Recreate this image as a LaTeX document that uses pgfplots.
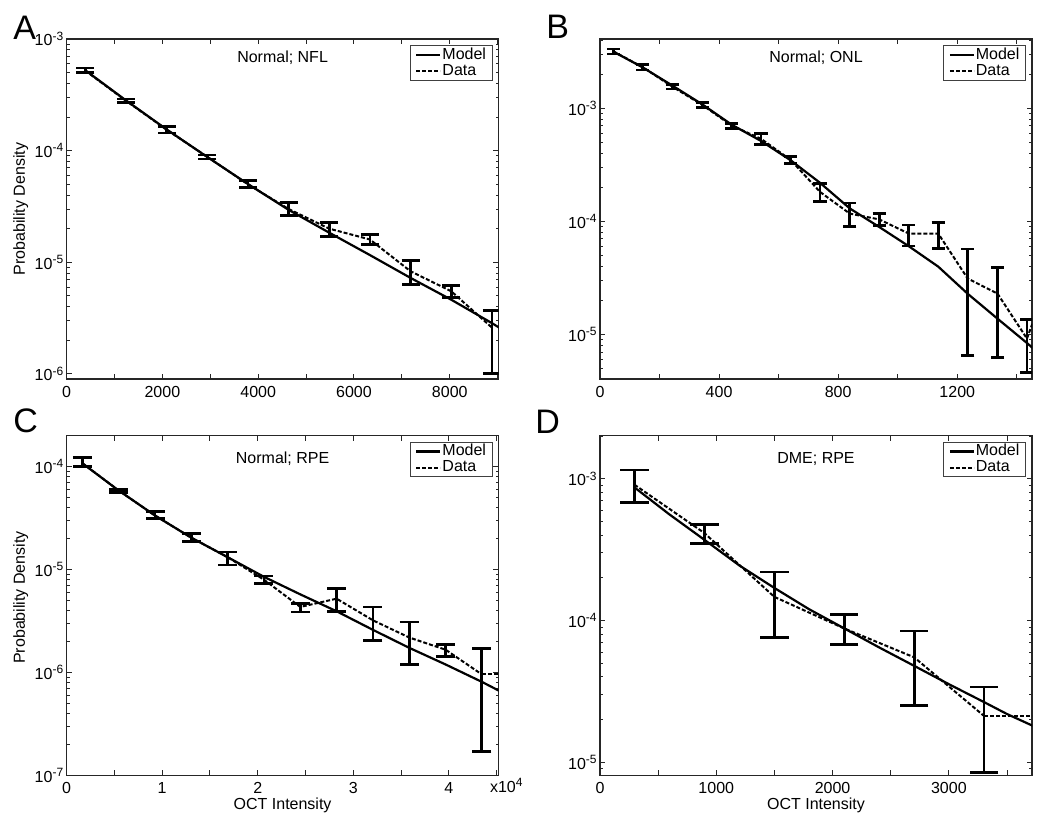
\documentclass[border=0pt]{standalone}
\usepackage{fontspec}
\setmainfont{Liberation Sans}
\usepackage{pgfplots}
\usepackage{pgfplotstable}
\pgfplotsset{compat=1.18}

\pgfplotstableread{
x y
390 5.25e-4
1239 2.82e-4
2088 1.55e-4
2937 8.77e-5
3786 5.02e-5
4635 2.95e-5
5484 1.84e-5
6333 1.16e-5
7182 7.24e-6
8031 4.62e-6
8880 2.85e-6
9050 2.57e-6
}\modelA
\pgfplotstableread{
x y ep em
390 5.2e-4 3.0e-5 1.8e-5
1239 2.8e-4 1.0e-5 0.9e-5
2088 1.54e-4 1.1e-5 1.0e-5
2937 8.8e-5 3.4e-6 3.7e-6
3786 5.0e-5 4.2e-6 3.6e-6
4635 3.0e-5 4.4e-6 3.8e-6
5484 2.0e-5 2.8e-6 2.9e-6
6333 1.6e-5 1.7e-6 1.6e-6
7182 8.3e-6 2.0e-6 2.0e-6
8031 5.5e-6 0.7e-6 0.7e-6
8880 2.6e-6 1.1e-6 1.6e-6
}\dataA

\pgfplotstableread{
x y
45 3.16e-3
144 2.29e-3
243 1.585e-3
343 1.084e-3
442 7.16e-4
541 5.13e-4
640 3.47e-4
739 2.19e-4
839 1.30e-4
938 8.91e-5
1037 6.03e-5
1136 3.98e-5
1235 2.29e-5
1335 1.38e-5
1434 8.41e-6
1460 7.33e-6
}\modelB
\pgfplotstableread{
x y ep em
45 3.18e-3 1.6e-4 1.6e-4
144 2.30e-3 1.3e-4 1.2e-4
243 1.55e-3 7e-5 7e-5
343 1.07e-3 6e-5 6e-5
442 7.03e-4 3.5e-5 3.6e-5
541 5.36e-4 6.4e-5 5.8e-5
640 3.5e-4 2.5e-5 2.3e-5
739 1.82e-4 3.3e-5 3.2e-5
839 1.17e-4 2.8e-5 2.7e-5
938 1.04e-4 1.3e-5 1.2e-5
1037 7.8e-5 1.5e-5 1.75e-5
1136 7.8e-5 1.95e-5 2.0e-5
1235 3.12e-5 2.58e-5 2.47e-5
1335 2.3e-5 1.6e-5 1.67e-5
1434 9.2e-6 4.4e-6 4.6e-6
}\dataB

\pgfplotstableread{
x y
0.165 1.076e-4
0.545 5.86e-5
0.925 3.35e-5
1.305 2.04e-5
1.685 1.32e-5
2.065 8.51e-6
2.445 5.75e-6
2.825 3.94e-6
3.205 2.60e-6
3.585 1.74e-6
3.965 1.20e-6
4.345 8.13e-7
4.523 6.68e-7
}\modelC
\pgfplotstableread{
x y ep em
0.165 1.08e-4 1.5e-5 0.8e-5
0.545 5.86e-5 1.2e-6 2.2e-6
0.925 3.35e-5 3.4e-6 2.4e-6
1.305 2.04e-5 2.2e-6 1.5e-6
1.685 1.32e-5 1.6e-6 2.1e-6
2.065 7.98e-6 0.69e-6 0.68e-6
2.445 4.34e-6 0.34e-6 0.47e-6
2.825 5.22e-6 1.31e-6 1.28e-6
3.205 3.22e-6 1.12e-6 1.16e-6
3.585 2.19e-6 0.91e-6 0.99e-6
3.965 1.67e-6 0.21e-6 0.23e-6
4.345 9.6e-7 7.5e-7 7.9e-7
}\dataC

\pgfplotstableread{
x y
296 8.71e-4
596 5.62e-4
897 3.72e-4
1198 2.45e-4
1499 1.70e-4
1800 1.20e-4
2100 8.81e-5
2401 6.46e-5
2702 4.79e-5
3002 3.55e-5
3302 2.66e-5
3500 2.19e-5
3740 1.78e-5
}\modelD
\pgfplotstableread{
x y ep em
296 9.1e-4 2.45e-4 2.32e-4
897 4.15e-4 5.9e-5 6.7e-5
1499 1.47e-4 7.3e-5 7.1e-5
2100 8.8e-5 2.2e-5 2.0e-5
2702 5.5e-5 2.95e-5 2.97e-5
3303 2.12e-5 1.28e-5 1.275e-5
}\dataD

\newcommand{\tfont}{\fontsize{8}{9}\selectfont}

\begin{document}
\begin{tikzpicture}
\path[use as bounding box] (0,0) rectangle (525pt,412.5pt);

% A
\begin{axis}[scale only axis, width=216pt, height=170pt, anchor=south west,
  at={(33.3pt,223pt)},
  ymode=log, log basis y=10,
  tick align=inside, tick pos=both,
  major tick length=2.6pt, minor tick length=1.5pt,
  axis line style={black!85, line width=0.55pt},
  tick style={black!85, line width=0.5pt},
  tick label style={font=\tfont},
  yticklabel style={inner xsep=1pt},
  label style={font=\tfont},
  ylabel style={at={(axis description cs:-0.0965,0.5)}, anchor=base},
  legend style={at={(rel axis cs:0.986,0.982)}, anchor=north east,
    draw=black!75, line width=0.5pt, font=\tfont,
    inner xsep=2.5pt, inner ysep=0.5pt,
    nodes={inner sep=0.5pt, text depth=0.15em}, cells={anchor=west}},
  legend image code/.code={\draw[#1] (0pt,0pt) -- (12pt,0pt);},
  xmin=0, xmax=9020, ymin=9.0e-7, ymax=1e-3,
  xtick={0,1000,...,9000}, xticklabels={0,,2000,,4000,,6000,,8000,},
  ytick={1e-6,1e-5,1e-4,1e-3},
  yticklabels={10\textsuperscript{-6},10\textsuperscript{-5},10\textsuperscript{-4},10\textsuperscript{-3}},
  minor ytick={2e-6,3e-6,4e-6,5e-6,6e-6,7e-6,8e-6,9e-6,2e-5,3e-5,4e-5,5e-5,6e-5,7e-5,8e-5,9e-5,2e-4,3e-4,4e-4,5e-4,6e-4,7e-4,8e-4,9e-4},
  ylabel={Probability Density}]
\addplot[black, line width=1.1pt, no marks] table[x=x,y=y]{\modelA};
\addlegendentry{Model}
\addplot[black, line width=1pt, dash pattern=on 2pt off 1pt, no marks,
  error bars/.cd, y dir=both, y explicit,
  error bar style={solid, line width=1.4pt},
  error mark options={rotate=90, solid, line width=1.4pt, mark size=4.5pt}]
  table[x=x,y=y,y error plus=ep,y error minus=em]{\dataA};
\addlegendentry{Data}
\end{axis}

% B
\begin{axis}[scale only axis, width=216pt, height=170pt, anchor=south west,
  at={(300pt,223pt)},
  ymode=log, log basis y=10,
  tick align=inside, tick pos=both,
  major tick length=2.6pt, minor tick length=1.5pt,
  axis line style={black!85, line width=0.55pt},
  tick style={black!85, line width=0.5pt},
  tick label style={font=\tfont},
  yticklabel style={inner xsep=1pt},
  legend style={at={(rel axis cs:0.986,0.982)}, anchor=north east,
    draw=black!75, line width=0.5pt, font=\tfont,
    inner xsep=2.5pt, inner ysep=0.5pt,
    nodes={inner sep=0.5pt, text depth=0.15em}, cells={anchor=west}},
  legend image code/.code={\draw[#1] (0pt,0pt) -- (12pt,0pt);},
  xmin=0, xmax=1451, ymin=4.04e-6, ymax=4.09e-3,
  xtick={0,200,...,1400}, xticklabels={0,,400,,800,,1200,},
  ytick={1e-5,1e-4,1e-3},
  yticklabels={10\textsuperscript{-5},10\textsuperscript{-4},10\textsuperscript{-3}},
  minor ytick={5e-6,6e-6,7e-6,8e-6,9e-6,2e-5,3e-5,4e-5,5e-5,6e-5,7e-5,8e-5,9e-5,2e-4,3e-4,4e-4,5e-4,6e-4,7e-4,8e-4,9e-4,2e-3,3e-3,4e-3}]
\addplot[black, line width=1.1pt, no marks] table[x=x,y=y]{\modelB};
\addlegendentry{Model}
\addplot[black, line width=1pt, dash pattern=on 2pt off 1pt, no marks,
  error bars/.cd, y dir=both, y explicit,
  error bar style={solid, line width=1.4pt},
  error mark options={rotate=90, solid, line width=1.4pt, mark size=3.3pt}]
  table[x=x,y=y,y error plus=ep,y error minus=em]{\dataB};
\addlegendentry{Data}
\addplot[black, line width=1pt, dash pattern=on 2pt off 1pt, no marks, forget plot]
  coordinates {(1434,9.2e-6) (1452,1.24e-5)};
\end{axis}

% C
\begin{axis}[scale only axis, width=216pt, height=170pt, anchor=south west,
  at={(33.3pt,24.7pt)},
  ymode=log, log basis y=10,
  tick align=inside, tick pos=both,
  major tick length=2.6pt, minor tick length=1.5pt,
  axis line style={black!85, line width=0.55pt},
  tick style={black!85, line width=0.5pt},
  tick label style={font=\tfont},
  yticklabel style={inner xsep=1pt},
  label style={font=\tfont},
  ylabel style={at={(axis description cs:-0.0965,0.524)}, anchor=base},
  xlabel style={at={(axis description cs:0.5,0)}, anchor=base, yshift=-16.7pt},
  legend style={at={(rel axis cs:0.986,0.982)}, anchor=north east,
    draw=black!75, line width=0.5pt, font=\tfont,
    inner xsep=2.5pt, inner ysep=0.5pt,
    nodes={inner sep=0.5pt, text depth=0.15em}, cells={anchor=west}},
  legend image code/.code={\draw[#1] (0pt,0pt) -- (12pt,0pt);},
  xmin=0, xmax=4.52, ymin=1e-7, ymax=2.0e-4,
  xtick={0,0.5,...,4.5}, xticklabels={0,,1,,2,,3,,4,},
  ytick={1e-7,1e-6,1e-5,1e-4},
  yticklabels={10\textsuperscript{-7},10\textsuperscript{-6},10\textsuperscript{-5},10\textsuperscript{-4}},
  minor ytick={2e-7,3e-7,4e-7,5e-7,6e-7,7e-7,8e-7,9e-7,2e-6,3e-6,4e-6,5e-6,6e-6,7e-6,8e-6,9e-6,2e-5,3e-5,4e-5,5e-5,6e-5,7e-5,8e-5,9e-5,2e-4},
  ylabel={Probability Density}, xlabel={OCT Intensity}]
\addplot[black, line width=1.1pt, no marks] table[x=x,y=y]{\modelC};
\addlegendentry{Model}
\addplot[black, line width=1pt, dash pattern=on 2pt off 1pt, no marks,
  error bars/.cd, y dir=both, y explicit,
  error bar style={solid, line width=1.4pt},
  error mark options={rotate=90, solid, line width=1.4pt, mark size=4.75pt}]
  table[x=x,y=y,y error plus=ep,y error minus=em]{\dataC};
\addlegendentry{Data}
\addplot[black, line width=1pt, dash pattern=on 2pt off 1pt, no marks, forget plot]
  coordinates {(4.345,9.6e-7) (4.55,9.6e-7)};
\end{axis}

% D
\begin{axis}[scale only axis, width=216pt, height=170pt, anchor=south west,
  at={(300pt,24.7pt)},
  ymode=log, log basis y=10,
  tick align=inside, tick pos=both,
  major tick length=2.6pt, minor tick length=1.5pt,
  axis line style={black!85, line width=0.55pt},
  tick style={black!85, line width=0.5pt},
  tick label style={font=\tfont},
  yticklabel style={inner xsep=1pt},
  label style={font=\tfont},
  xlabel style={at={(axis description cs:0.5,0)}, anchor=base, yshift=-16.7pt},
  legend style={at={(rel axis cs:0.986,0.982)}, anchor=north east,
    draw=black!75, line width=0.5pt, font=\tfont,
    inner xsep=2.5pt, inner ysep=0.5pt,
    nodes={inner sep=0.5pt, text depth=0.15em}, cells={anchor=west}},
  legend image code/.code={\draw[#1] (0pt,0pt) -- (12pt,0pt);},
  xmin=0, xmax=3715, ymin=8.05e-6, ymax=2.02e-3,
  xtick={0,500,...,3500}, xticklabels={0,,1000,,2000,,3000,},
  ytick={1e-5,1e-4,1e-3},
  yticklabels={10\textsuperscript{-5},10\textsuperscript{-4},10\textsuperscript{-3}},
  minor ytick={9e-6,2e-5,3e-5,4e-5,5e-5,6e-5,7e-5,8e-5,9e-5,2e-4,3e-4,4e-4,5e-4,6e-4,7e-4,8e-4,9e-4,2e-3},
  xlabel={OCT Intensity}]
\addplot[black, line width=1.1pt, no marks] table[x=x,y=y]{\modelD};
\addlegendentry{Model}
\addplot[black, line width=1pt, dash pattern=on 2pt off 1pt, no marks,
  error bars/.cd, y dir=both, y explicit,
  error bar style={solid, line width=1.4pt},
  error mark options={rotate=90, solid, line width=1.4pt, mark size=7.1pt}]
  table[x=x,y=y,y error plus=ep,y error minus=em]{\dataD};
\addlegendentry{Data}
\addplot[black, line width=1pt, dash pattern=on 2pt off 1pt, no marks, forget plot]
  coordinates {(3303,2.12e-5) (3750,2.12e-5)};
\end{axis}

% panel titles (inside the axes, top centre)
\node[font=\tfont, anchor=base] at (141.3pt,381.3pt) {Normal; NFL};
\node[font=\tfont, anchor=base] at (408pt,381.3pt) {Normal; ONL};
\node[font=\tfont, anchor=base] at (141.3pt,180.8pt) {Normal; RPE};
\node[font=\tfont, anchor=base] at (408pt,180.8pt) {DME; RPE};

% scale factor of panel C
\node[font=\tfont, anchor=base west, inner sep=0pt] at (244.8pt,16.3pt) {x10\textsuperscript{4}};

% panel letters
\node[font=\fontsize{17}{18}\selectfont, anchor=base west, inner sep=0pt] at (6.5pt,392.5pt) {A};
\node[font=\fontsize{17}{18}\selectfont, anchor=base west, inner sep=0pt] at (273pt,393pt) {B};
\node[font=\fontsize{17}{18}\selectfont, anchor=base west, inner sep=0pt] at (6.5pt,196pt) {C};
\node[font=\fontsize{17}{18}\selectfont, anchor=base west, inner sep=0pt] at (267.5pt,195.5pt) {D};
\end{tikzpicture}
\end{document}
